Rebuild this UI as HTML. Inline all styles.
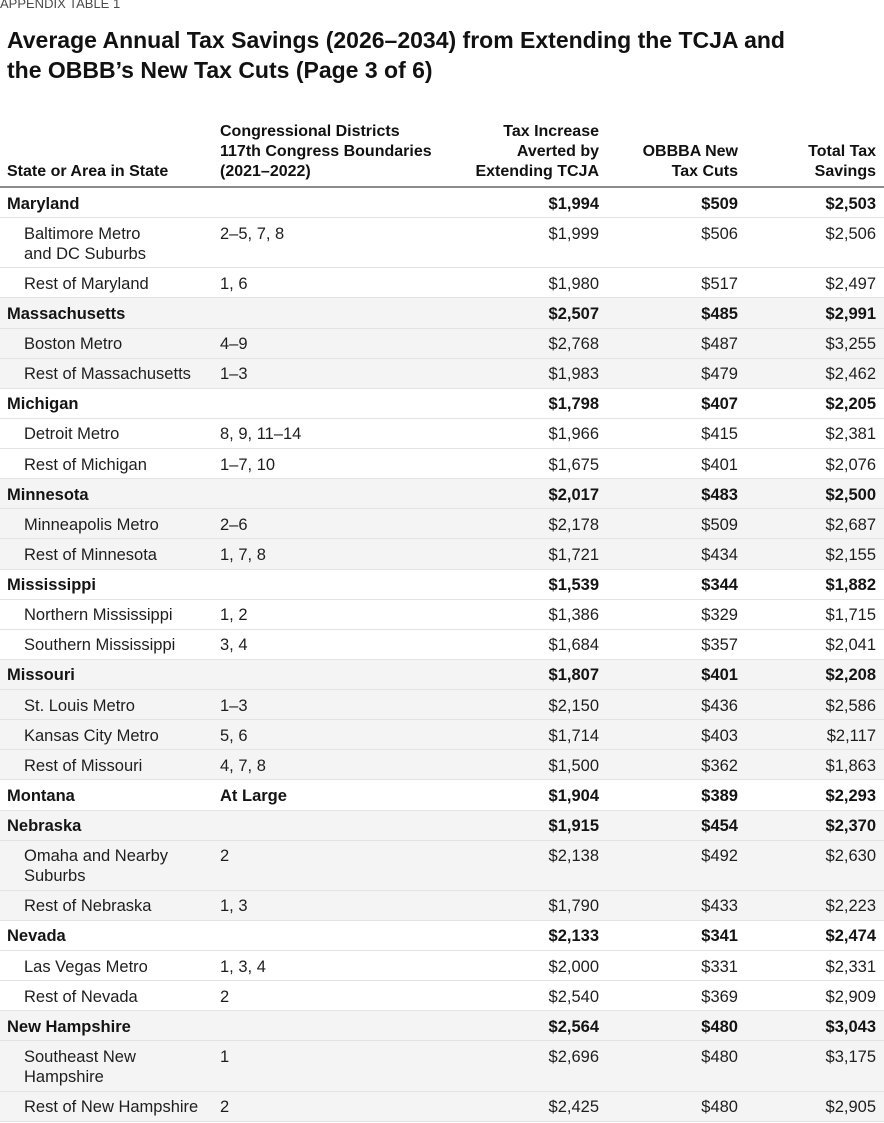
<!DOCTYPE html>
<html><head><meta charset="utf-8">
<style>
*{margin:0;padding:0;box-sizing:border-box}
html,body{width:884px;height:1123px;background:#fff;overflow:hidden}
body{position:relative;font-family:"Liberation Sans",Arial,sans-serif;color:#141414}
.kick{position:absolute;left:0;top:-3px;font-size:13px;line-height:13px;color:#4a4a4a;letter-spacing:0px}
.title{position:absolute;left:7px;top:25px;font-size:23px;line-height:30px;font-weight:bold;color:#111;white-space:nowrap}
.hdr{position:absolute;top:121.5px;font-size:16px;line-height:20px;font-weight:bold;color:#111;white-space:nowrap}
.rule{position:absolute;left:0;top:186px;width:884px;height:2px;background:#8c8c8c}
.tbl{position:absolute;left:0;top:188px;width:884px}
.r{position:relative;height:30.14px;border-bottom:1.5px solid #e3e3e3;font-size:16.5px;line-height:20px;white-space:nowrap}
.r.d{height:50.14px}
.g{background:#f4f4f4}
.r span{position:absolute;top:5.5px}
.c1{left:7px}
.r.s .c1{left:24px}
.c2{left:220px}
.c3{right:285px;text-align:right}
.c4{right:146px;text-align:right}
.c5{right:8px;text-align:right}
.b{font-weight:bold}
.r.s{color:#1e1e1e}
</style></head><body>
<div class="kick">APPENDIX TABLE 1</div>
<div class="title">Average Annual Tax Savings (2026–2034) from Extending the TCJA and<br>the OBBB’s New Tax Cuts (Page 3 of 6)</div>

<div class="hdr" style="left:7px;top:161.5px">State or Area in State</div>
<div class="hdr" style="left:220px">Congressional Districts<br>117th Congress Boundaries<br>(2021–2022)</div>
<div class="hdr" style="right:285px;text-align:right">Tax Increase<br>Averted by<br>Extending TCJA</div>
<div class="hdr" style="right:146px;text-align:right;top:141.5px">OBBBA New<br>Tax Cuts</div>
<div class="hdr" style="right:8px;text-align:right;top:141.5px">Total Tax<br>Savings</div>
<div class="rule"></div>

<div class="tbl">
<div class="r b"><span class="c1">Maryland</span><span class="c3">$1,994</span><span class="c4">$509</span><span class="c5">$2,503</span></div>
<div class="r s d"><span class="c1">Baltimore Metro<br>and DC Suburbs</span><span class="c2">2–5, 7, 8</span><span class="c3">$1,999</span><span class="c4">$506</span><span class="c5">$2,506</span></div>
<div class="r s"><span class="c1">Rest of Maryland</span><span class="c2">1, 6</span><span class="c3">$1,980</span><span class="c4">$517</span><span class="c5">$2,497</span></div>

<div class="r b g"><span class="c1">Massachusetts</span><span class="c3">$2,507</span><span class="c4">$485</span><span class="c5">$2,991</span></div>
<div class="r s g"><span class="c1">Boston Metro</span><span class="c2">4–9</span><span class="c3">$2,768</span><span class="c4">$487</span><span class="c5">$3,255</span></div>
<div class="r s g"><span class="c1">Rest of Massachusetts</span><span class="c2">1–3</span><span class="c3">$1,983</span><span class="c4">$479</span><span class="c5">$2,462</span></div>

<div class="r b"><span class="c1">Michigan</span><span class="c3">$1,798</span><span class="c4">$407</span><span class="c5">$2,205</span></div>
<div class="r s"><span class="c1">Detroit Metro</span><span class="c2">8, 9, 11–14</span><span class="c3">$1,966</span><span class="c4">$415</span><span class="c5">$2,381</span></div>
<div class="r s"><span class="c1">Rest of Michigan</span><span class="c2">1–7, 10</span><span class="c3">$1,675</span><span class="c4">$401</span><span class="c5">$2,076</span></div>

<div class="r b g"><span class="c1">Minnesota</span><span class="c3">$2,017</span><span class="c4">$483</span><span class="c5">$2,500</span></div>
<div class="r s g"><span class="c1">Minneapolis Metro</span><span class="c2">2–6</span><span class="c3">$2,178</span><span class="c4">$509</span><span class="c5">$2,687</span></div>
<div class="r s g"><span class="c1">Rest of Minnesota</span><span class="c2">1, 7, 8</span><span class="c3">$1,721</span><span class="c4">$434</span><span class="c5">$2,155</span></div>

<div class="r b"><span class="c1">Mississippi</span><span class="c3">$1,539</span><span class="c4">$344</span><span class="c5">$1,882</span></div>
<div class="r s"><span class="c1">Northern Mississippi</span><span class="c2">1, 2</span><span class="c3">$1,386</span><span class="c4">$329</span><span class="c5">$1,715</span></div>
<div class="r s"><span class="c1">Southern Mississippi</span><span class="c2">3, 4</span><span class="c3">$1,684</span><span class="c4">$357</span><span class="c5">$2,041</span></div>

<div class="r b g"><span class="c1">Missouri</span><span class="c3">$1,807</span><span class="c4">$401</span><span class="c5">$2,208</span></div>
<div class="r s g"><span class="c1">St. Louis Metro</span><span class="c2">1–3</span><span class="c3">$2,150</span><span class="c4">$436</span><span class="c5">$2,586</span></div>
<div class="r s g"><span class="c1">Kansas City Metro</span><span class="c2">5, 6</span><span class="c3">$1,714</span><span class="c4">$403</span><span class="c5">$2,117</span></div>
<div class="r s g"><span class="c1">Rest of Missouri</span><span class="c2">4, 7, 8</span><span class="c3">$1,500</span><span class="c4">$362</span><span class="c5">$1,863</span></div>

<div class="r b"><span class="c1">Montana</span><span class="c2">At Large</span><span class="c3">$1,904</span><span class="c4">$389</span><span class="c5">$2,293</span></div>

<div class="r b g"><span class="c1">Nebraska</span><span class="c3">$1,915</span><span class="c4">$454</span><span class="c5">$2,370</span></div>
<div class="r s d g"><span class="c1">Omaha and Nearby<br>Suburbs</span><span class="c2">2</span><span class="c3">$2,138</span><span class="c4">$492</span><span class="c5">$2,630</span></div>
<div class="r s g"><span class="c1">Rest of Nebraska</span><span class="c2">1, 3</span><span class="c3">$1,790</span><span class="c4">$433</span><span class="c5">$2,223</span></div>

<div class="r b"><span class="c1">Nevada</span><span class="c3">$2,133</span><span class="c4">$341</span><span class="c5">$2,474</span></div>
<div class="r s"><span class="c1">Las Vegas Metro</span><span class="c2">1, 3, 4</span><span class="c3">$2,000</span><span class="c4">$331</span><span class="c5">$2,331</span></div>
<div class="r s"><span class="c1">Rest of Nevada</span><span class="c2">2</span><span class="c3">$2,540</span><span class="c4">$369</span><span class="c5">$2,909</span></div>

<div class="r b g"><span class="c1">New Hampshire</span><span class="c3">$2,564</span><span class="c4">$480</span><span class="c5">$3,043</span></div>
<div class="r s d g"><span class="c1">Southeast New<br>Hampshire</span><span class="c2">1</span><span class="c3">$2,696</span><span class="c4">$480</span><span class="c5">$3,175</span></div>
<div class="r s g"><span class="c1">Rest of New Hampshire</span><span class="c2">2</span><span class="c3">$2,425</span><span class="c4">$480</span><span class="c5">$2,905</span></div>
</div>
</body></html>
